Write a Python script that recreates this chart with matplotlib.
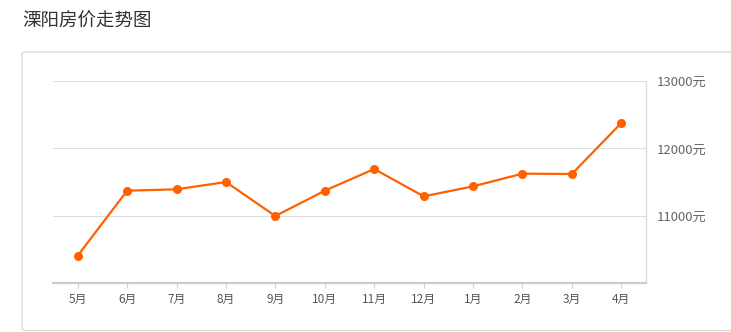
import matplotlib
matplotlib.use("Agg")
import matplotlib.pyplot as plt
from matplotlib.patches import FancyBboxPatch

plt.rcParams['font.family'] = ['Noto Sans CJK SC', 'DejaVu Sans']

title = "溧阳房价走势图"
months = ["5月", "6月", "7月", "8月", "9月", "10月", "11月", "12月", "1月", "2月", "3月", "4月"]
prices = [10406, 11371, 11391, 11500, 10995, 11371, 11693, 11287, 11435, 11624, 11619, 12376]
yticks = [11000, 12000, 13000]
ytick_labels = ["11000元", "12000元", "13000元"]

W, H = 731, 332
fig = plt.figure(figsize=(W / 100, H / 100), dpi=100)
fig.patch.set_facecolor("white")

# panel box
panel = FancyBboxPatch((22 / W, 1.5 / H), (760 - 22) / W, (332 - 52 - 1.5) / H,
                       boxstyle="round,pad=0,rounding_size=0.006",
                       transform=fig.transFigure, facecolor="white",
                       edgecolor="#dcdcdc", linewidth=1.0, zorder=-5)
fig.patches.append(panel)

fig.text(22 / W, 1 - 22 / H, title, fontsize=13.3, color="#333333",
         ha="left", va="center", fontweight="light")

ax = fig.add_axes([53 / W, (H - 283) / H, (646 - 53) / W, (283 - 81) / H])
ax.set_zorder(2)
ax.set_facecolor("none")
x = list(range(len(months)))
ax.plot(x, prices, color="#ff6000", linewidth=1.6, marker="o", markersize=6.5,
        markeredgewidth=0, zorder=3, clip_on=False)

ax.set_xlim(-0.5, len(months) - 0.5)
ax.set_ylim(10000, 13000)
ax.set_xticks(x)
ax.set_xticklabels(months)
ax.set_yticks(yticks)
ax.set_yticklabels(ytick_labels)
ax.yaxis.tick_right()
ax.tick_params(axis="y", length=0, pad=7.5, labelsize=9.5, labelcolor="#666666")
ax.tick_params(axis="x", length=3.5, width=0.8, color="#d0d0d0", pad=4,
               labelsize=8.5, labelcolor="#555555")

ax.grid(axis="y", color="#dedede", linewidth=0.8)
ax.set_axisbelow(True)
for s in ["top", "left"]:
    ax.spines[s].set_visible(False)
ax.spines["bottom"].set_color("#cccccc")
ax.spines["bottom"].set_linewidth(1.6)
ax.spines["right"].set_color("#dddddd")
ax.spines["right"].set_linewidth(1.0)

fig.savefig("out.png", dpi=100, facecolor="white")
